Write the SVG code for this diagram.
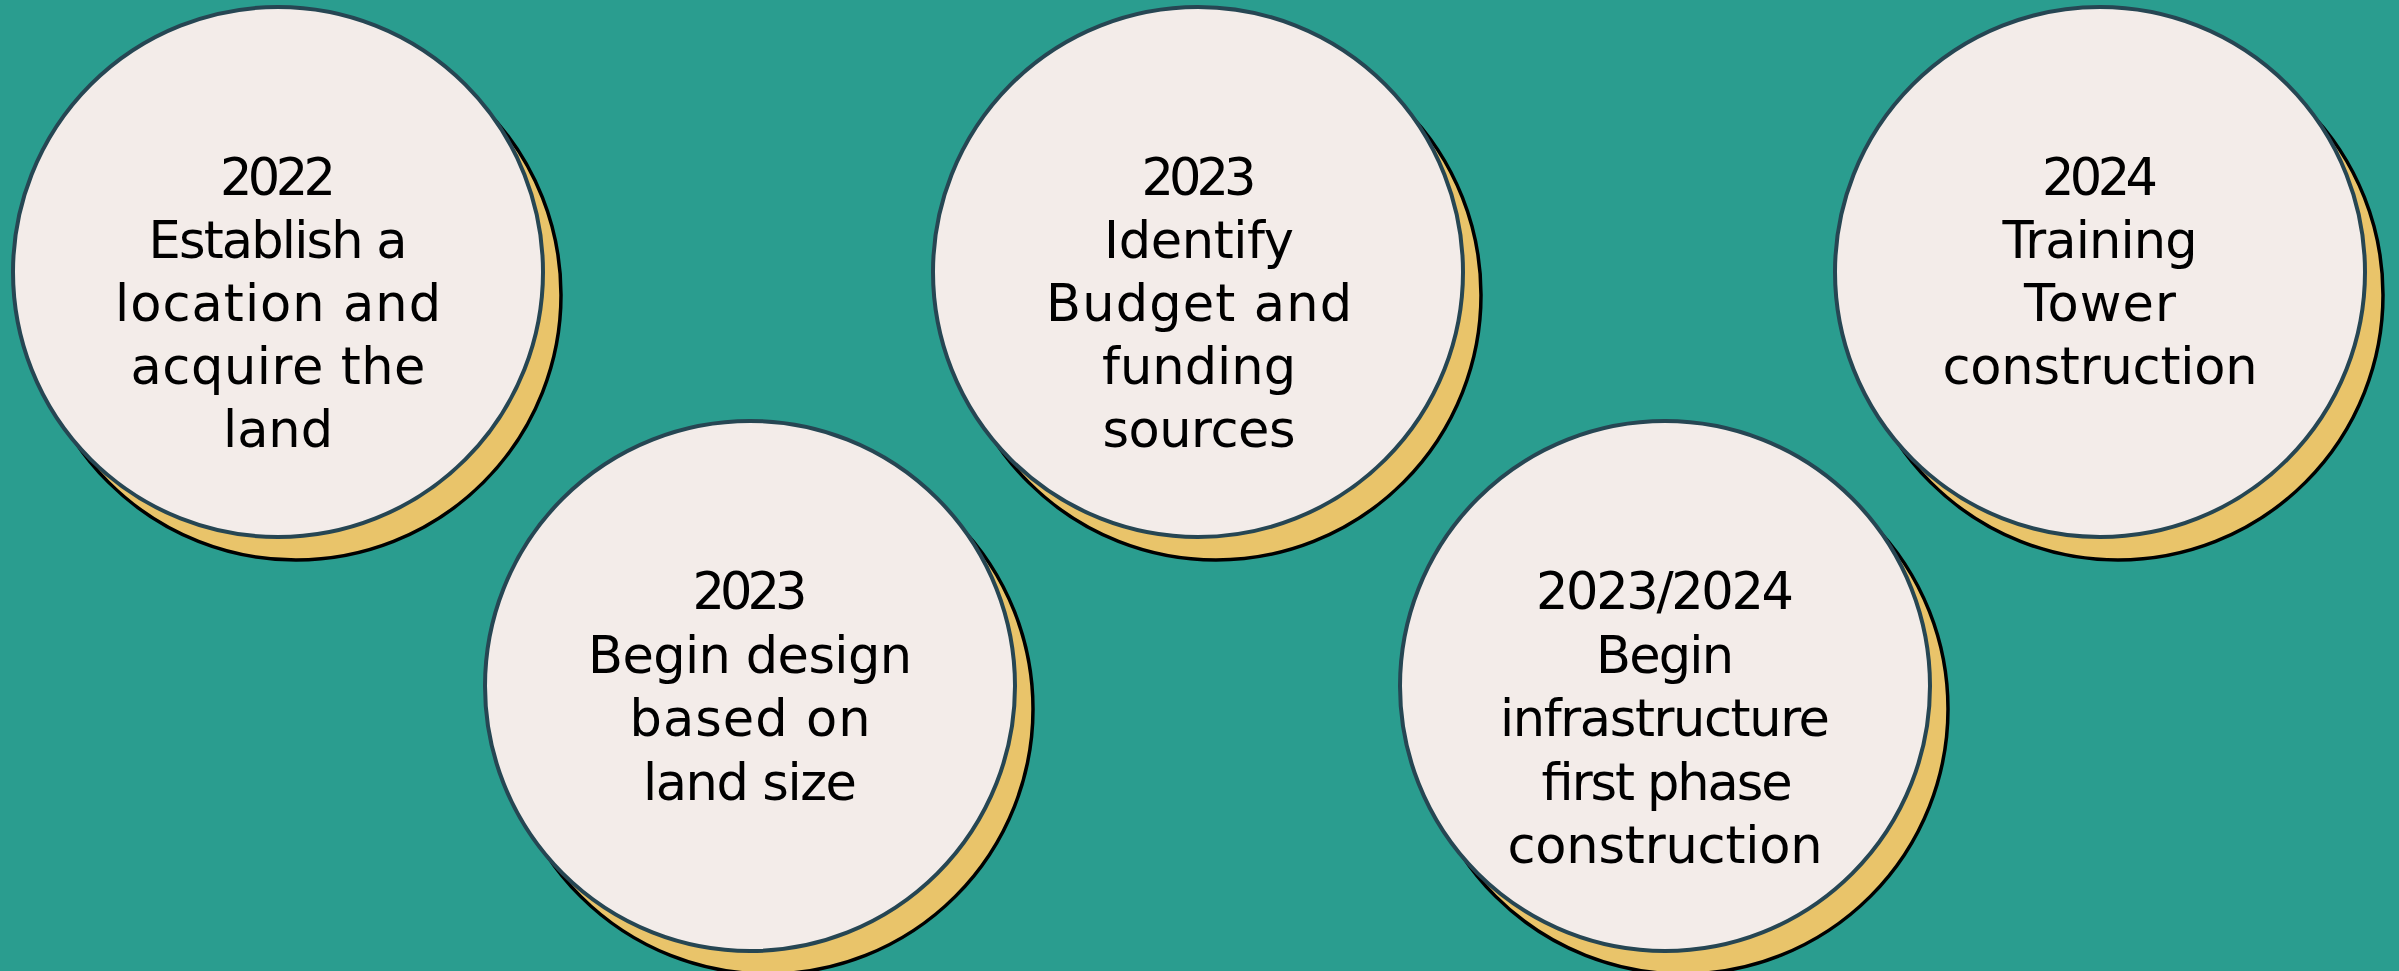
<svg xmlns="http://www.w3.org/2000/svg" width="2399" height="971" viewBox="0 0 2399 971">
<style>
.shadow{fill:#E9C46A;stroke:#000000;stroke-width:3.5}
.disc{fill:#F3ECE9;stroke:#264653;stroke-width:4}
.lbl{font-family:"DejaVu Sans",sans-serif;font-size:51px;fill:#000000;text-anchor:start}
</style>
<rect x="0" y="0" width="2399" height="971" fill="#2A9D8F"/>
<g id="node-2022">
<circle class="shadow" cx="296" cy="295" r="265"/>
<circle class="disc" cx="278" cy="272" r="265"/>
<text class="lbl">
<tspan x="220" y="195" textLength="116">2022</tspan>
<tspan x="148.5" y="258" textLength="259">Establish a</tspan>
<tspan x="115" y="321" textLength="326">location and</tspan>
<tspan x="130.5" y="384" textLength="295">acquire the</tspan>
<tspan x="223" y="447" textLength="110">land</tspan>
</text>
</g>
<g id="node-2023-design">
<circle class="shadow" cx="768" cy="709" r="265"/>
<circle class="disc" cx="750" cy="686" r="265"/>
<text class="lbl">
<tspan x="692.5" y="609" textLength="115">2023</tspan>
<tspan x="588" y="672.5" textLength="324">Begin design</tspan>
<tspan x="629.5" y="736" textLength="241">based on</tspan>
<tspan x="643" y="799.5" textLength="214">land size</tspan>
</text>
</g>
<g id="node-2023-budget">
<circle class="shadow" cx="1216" cy="295" r="265"/>
<circle class="disc" cx="1198" cy="272" r="265"/>
<text class="lbl">
<tspan x="1141.5" y="195" textLength="115">2023</tspan>
<tspan x="1104" y="258" textLength="190">Identify</tspan>
<tspan x="1046" y="321" textLength="306">Budget and</tspan>
<tspan x="1102" y="384" textLength="194">funding</tspan>
<tspan x="1102.5" y="447" textLength="193">sources</tspan>
</text>
</g>
<g id="node-2023-2024">
<circle class="shadow" cx="1683" cy="709" r="265"/>
<circle class="disc" cx="1665" cy="686" r="265"/>
<text class="lbl">
<tspan x="1536" y="609" textLength="258">2023/2024</tspan>
<tspan x="1596" y="672.5" textLength="138">Begin</tspan>
<tspan x="1500" y="736" textLength="330">infrastructure</tspan>
<tspan x="1539.5" y="799.5" textLength="251">first phase</tspan>
<tspan x="1507.5" y="863" textLength="315">construction</tspan>
</text>
</g>
<g id="node-2024">
<circle class="shadow" cx="2118" cy="295" r="265"/>
<circle class="disc" cx="2100" cy="272" r="265"/>
<text class="lbl">
<tspan x="2042" y="195" textLength="116">2024</tspan>
<tspan x="2002.5" y="258" textLength="195">Training</tspan>
<tspan x="2024" y="321" textLength="152">Tower</tspan>
<tspan x="1942.5" y="384" textLength="315">construction</tspan>
</text>
</g>
<g id="connectors"></g>
</svg>
